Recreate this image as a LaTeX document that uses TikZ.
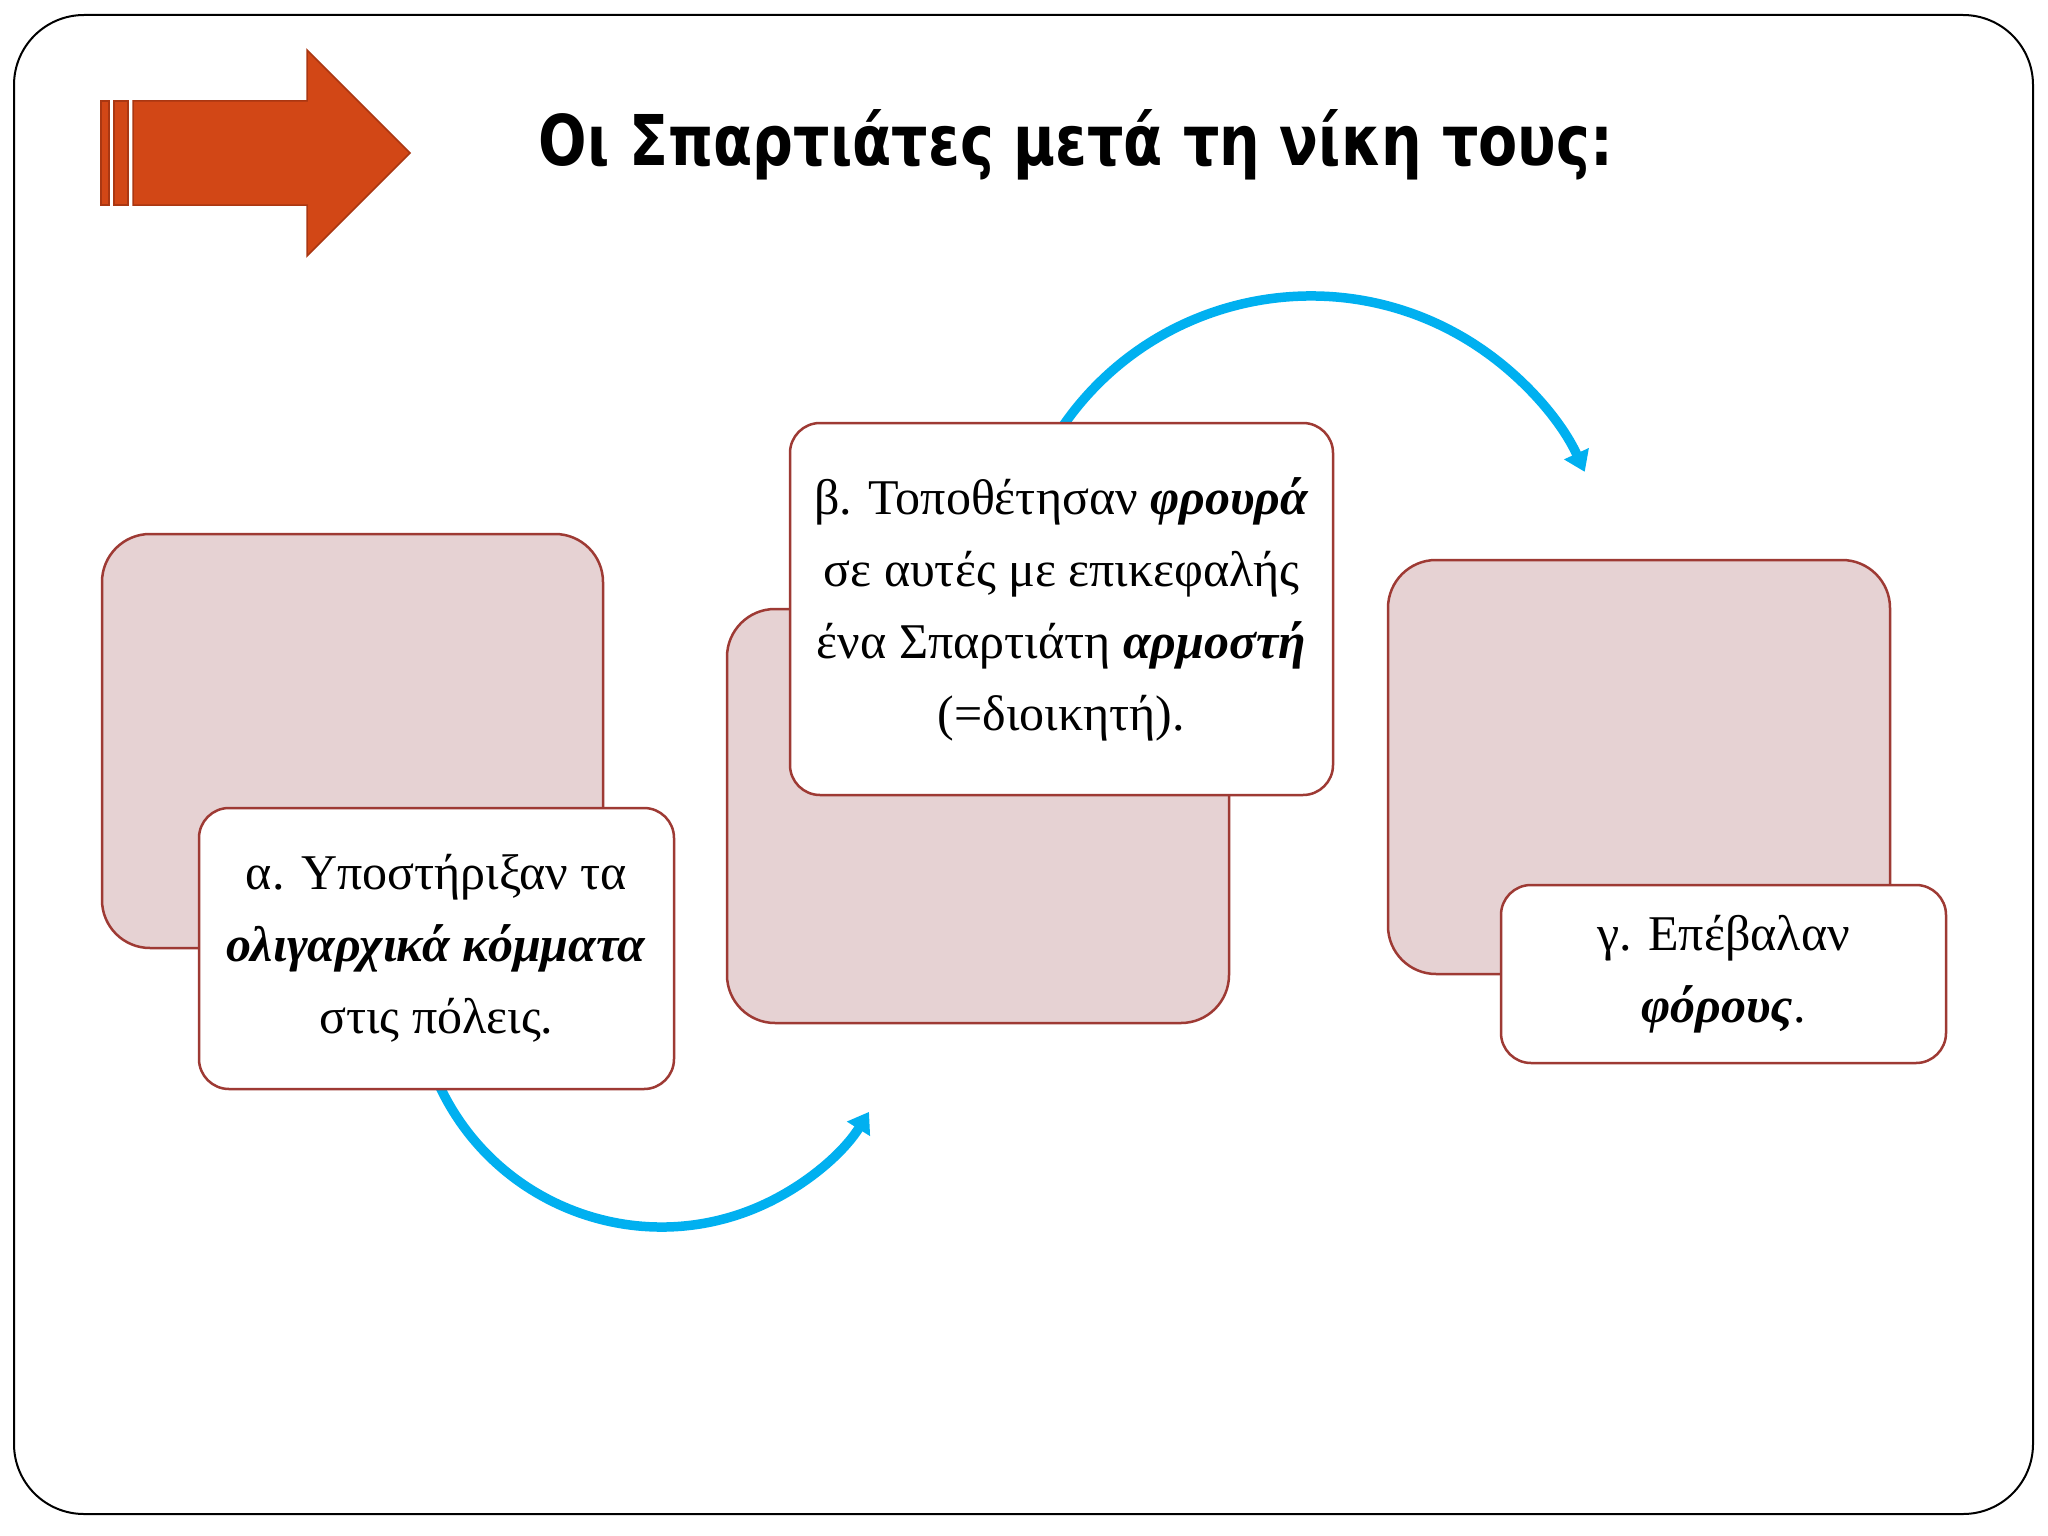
\documentclass[tikz,border=0pt]{standalone}
\usepackage{fontspec}
\usepackage{graphicx}
\setmainfont{Liberation Serif}
\newfontfamily\titlefont{DejaVu Sans}
\usetikzlibrary{arrows.meta}
\definecolor{pinkfill}{RGB}{230,210,211}
\definecolor{boxline}{RGB}{158,58,52}
\definecolor{cyanarc}{RGB}{0,176,240}
\definecolor{arrowfill}{RGB}{210,71,22}
\definecolor{arrowline}{RGB}{170,55,18}
\begin{document}
\begin{tikzpicture}[x=1pt,y=-1pt,
  backbox/.style={draw=boxline, line width=2.5pt, fill=pinkfill, rounded corners=48pt, inner sep=0pt, outer sep=0pt},
  frontbox/.style={draw=boxline, line width=2.5pt, fill=white, rounded corners=30pt, inner sep=0pt, align=center, font=\fontsize{50}{72}\selectfont},
  flow/.style={draw=cyanarc, line width=9.5pt, -{Triangle[width=26pt,length=20pt]}},
  bigarrow/.style={fill=arrowfill, draw=arrowline, line width=1.5pt}]
\useasboundingbox (0,0) rectangle (2048,1536);
\fill[white] (0,0) rectangle (2048,1536);
% frame
\node[draw=black, line width=2pt, rounded corners=70pt, minimum width=2019, minimum height=1499, inner sep=0pt] (frame) at (1023.5,764.5) {};
% decorative arrow
\draw[bigarrow] (101,101) rectangle (109,205);
\draw[bigarrow] (114,101) rectangle (128,205);
\draw[bigarrow] (133,101) -- (307,101) -- (307,50) -- (410,153) -- (307,256) -- (307,205) -- (133,205) -- cycle;
% title
\node[anchor=base, font=\titlefont\bfseries\fontsize{70}{84}\selectfont, inner sep=0pt] (title) at (1076,166) {\resizebox{1074pt}{\height}{Οι Σπαρτιάτες μετά τη νίκη τους:}};
% connectors (drawn beneath the boxes)
\coordinate (s1) at (437.6,1081.7);
\coordinate (s2) at (1061,428.8);
\draw[flow] (s1) arc[start angle=156, end angle=32.0, radius=244.9];
\draw[flow] (s2) arc[start angle=-146, end angle=-24.6, radius=301.3];
% back boxes
\node[backbox, minimum width=501, minimum height=414] (a0) at (352.5,741) {};
\node[backbox, minimum width=502, minimum height=414] (b0) at (978,816) {};
\node[backbox, minimum width=502, minimum height=414] (c0) at (1639,767) {};
% front boxes
\node[frontbox, minimum width=475, minimum height=281] (a1) at (436.5,948.5) {α. Υποστήριξαν τα\\ \textbf{\textit{ολιγαρχικά κόμματα}}\\ στις πόλεις.};
\node[frontbox, minimum width=543, minimum height=372] (b1) at (1061.5,609) {β. Τοποθέτησαν \textbf{\textit{φρουρά}}\\ σε αυτές με επικεφαλής\\ ένα Σπαρτιάτη \textbf{\textit{αρμοστή}}\\ (=διοικητή).};
\node[frontbox, minimum width=445, minimum height=178] (c1) at (1723.5,974) {γ. Επέβαλαν\\ \textbf{\textit{φόρους}}.};
\end{tikzpicture}
\end{document}
